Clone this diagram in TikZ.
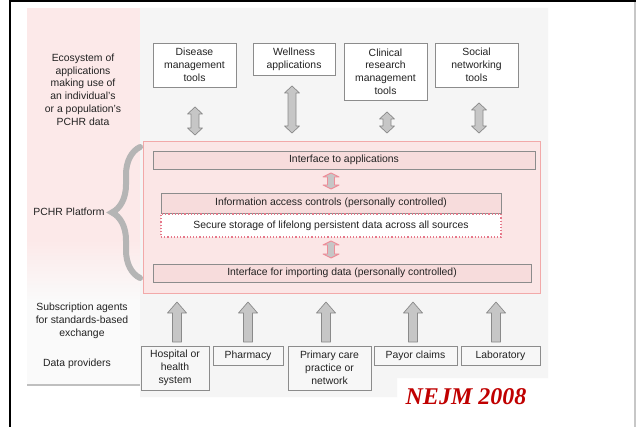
\documentclass[tikz,border=0pt]{standalone}
\usepackage{fontspec}
\setmainfont{Liberation Sans}
\newfontfamily\nejmfont{Liberation Serif}
\usetikzlibrary{decorations.pathreplacing}

\definecolor{ink}{HTML}{222222}
\definecolor{boxline}{HTML}{8C8C8C}
\definecolor{panelgray}{HTML}{F5F5F5}
\definecolor{panelpink}{HTML}{FCE9E9}
\definecolor{platfill}{HTML}{FBE6E6}
\definecolor{platline}{HTML}{F2A9A9}
\definecolor{barfill}{HTML}{F7DCDC}
\definecolor{arrowfill}{HTML}{C6C6C6}
\definecolor{arrowline}{HTML}{8A8A8A}
\definecolor{pinkhead}{HTML}{EE8C98}
\definecolor{bracegray}{HTML}{B5B5B5}
\definecolor{dotred}{HTML}{E6788A}
\definecolor{nejmred}{HTML}{C00000}

% vertical double-headed block arrow: x, top, bottom, head half-width, shaft half-width, head length
\newcommand{\vdblarrow}[7][blockarrow]{%
  \filldraw[#1] (#2,#3) -- (#2+#5,#3+#7) -- (#2+#6,#3+#7) -- (#2+#6,#4-#7)
    -- (#2+#5,#4-#7) -- (#2,#4) -- (#2-#5,#4-#7) -- (#2-#6,#4-#7)
    -- (#2-#6,#3+#7) -- (#2-#5,#3+#7) -- cycle;}
% upward block arrow: x, top, bottom, head half-width, shaft half-width, head length
\newcommand{\uparrowblk}[6]{%
  \filldraw[blockarrow] (#1,#2) -- (#1+#4,#2+#6) -- (#1+#5,#2+#6) -- (#1+#5,#3)
    -- (#1-#5,#3) -- (#1-#5,#2+#6) -- (#1-#4,#2+#6) -- cycle;}

\tikzset{
  txt/.style={font=\fontsize{10.4}{12.8}\selectfont, text=ink, align=center, inner sep=0pt},
  appbox/.style={txt, draw=boxline, fill=white, line width=0.8pt},
  srcbox/.style={txt, draw=boxline, fill=white!97!black, line width=0.8pt},
  bar/.style={txt, draw=boxline, fill=barfill, line width=0.8pt},
  blockarrow/.style={fill=arrowfill, draw=arrowline, line width=0.7pt, line join=round},
  innerarrow/.style={fill=arrowfill, draw=pinkhead, line width=0.9pt, line join=round},
}

\begin{document}
\begin{tikzpicture}[x=1pt,y=-1pt]
\useasboundingbox (0,0) rectangle (636,427);
\fill[white] (0,0) rectangle (636,427);

% slide frame
\draw[black, line width=2pt] (9,1) -- (636,1);
\draw[black, line width=2.5pt] (10,0) -- (10,427);
\draw[black!22, line width=1.5pt] (635,2) -- (635,427);

% background panels
\fill[panelgray] (140,8) -- (548,8) -- (548,378) -- (397,378) -- (397,397) -- (140,397) -- cycle;
\fill[panelpink] (27,8) rectangle (140,240);
\shade[top color=panelpink, bottom color=white!98!black] (27,240) rectangle (140,300);
\fill[white!98!black] (27,300) rectangle (140,385);
\draw[black!25, line width=1.6pt] (27,385) -- (140,385);

% PCHR platform
\node[draw=platline, fill=platfill, line width=0.9pt, minimum width=397pt, minimum height=152pt,
      inner sep=0pt] (plat) at (341.5,217) {};
\node[bar, minimum width=382pt, minimum height=18pt] (ifapp) at (344,160) {Interface to applications};
\node[bar, minimum width=340pt, minimum height=20pt] (access) at (331,203)
  {Information access controls (personally controlled)};
\node[txt, draw=dotred, dotted, line width=1.2pt, fill=white, minimum width=340pt, minimum height=23pt]
  (store) at (331,225.5) {Secure storage of lifelong persistent data across all sources};
\node[bar, minimum width=378pt, minimum height=18pt] (ifimp) at (342,273)
  {Interface for importing data (personally controlled)};

\vdblarrow[innerarrow]{331}{173}{189}{8}{3.5}{4}
\vdblarrow[innerarrow]{331}{241}{258}{8}{3.5}{4}

% applications
\node[appbox, minimum width=83pt, minimum height=44pt] (dis) at (194.5,65)
  {Disease\\management\\tools};
\node[appbox, minimum width=82pt, minimum height=32pt] (well) at (294,59)
  {Wellness\\applications};
\node[appbox, minimum width=83pt, minimum height=57pt] (clin) at (385.5,71.5)
  {Clinical\\research\\management\\tools};
\node[appbox, minimum width=83pt, minimum height=44pt] (soc) at (476.5,65)
  {Social\\networking\\tools};

\vdblarrow{195}{107}{135}{7.5}{4}{7}
\vdblarrow{292}{86}{133}{7.5}{4}{7}
\vdblarrow{387}{112}{133}{7.5}{4}{7}
\vdblarrow{479}{103}{133}{7.5}{4}{7}

% data providers
\node[srcbox, minimum width=68pt, minimum height=44pt] (hosp) at (175,368)
  {Hospital or\\health\\system};
\node[srcbox, minimum width=70pt, minimum height=19pt] (pharm) at (248,355.5) {Pharmacy};
\node[srcbox, minimum width=83pt, minimum height=44pt] (prim) at (329.5,368)
  {Primary care\\practice or\\network};
\node[srcbox, minimum width=83pt, minimum height=19pt] (payor) at (415.5,355.5) {Payor claims};
\node[srcbox, minimum width=79pt, minimum height=19pt] (lab) at (500.5,355.5) {Laboratory};

\uparrowblk{177}{302}{342}{9.5}{4.5}{11}
\uparrowblk{248}{302}{342}{9.5}{4.5}{11}
\uparrowblk{326}{302}{342}{9.5}{4.5}{11}
\uparrowblk{413}{302}{342}{9.5}{4.5}{11}
\uparrowblk{496}{302}{342}{9.5}{4.5}{11}

% layer labels
\node[txt] (ecolbl) at (83,89.5) {Ecosystem of\\applications\\making use of\\an individual's\\or a population's\\PCHR data};
\node[txt] (platlbl) at (69,212) {PCHR Platform};
\node[txt] (sublbl) at (82,321) {Subscription agents\\for standards-based\\exchange};
\node[txt] (datalbl) at (77,364) {Data providers};

\draw[bracegray, line width=6pt, line cap=round, decorate, decoration={brace, amplitude=28pt}]
  (140,278) -- (140,147);

% citation
\node[font=\nejmfont\bfseries\itshape\fontsize{24}{28}\selectfont, text=nejmred, inner sep=0pt]
  (cite) at (466,397) {NEJM 2008};
\end{tikzpicture}
\end{document}
